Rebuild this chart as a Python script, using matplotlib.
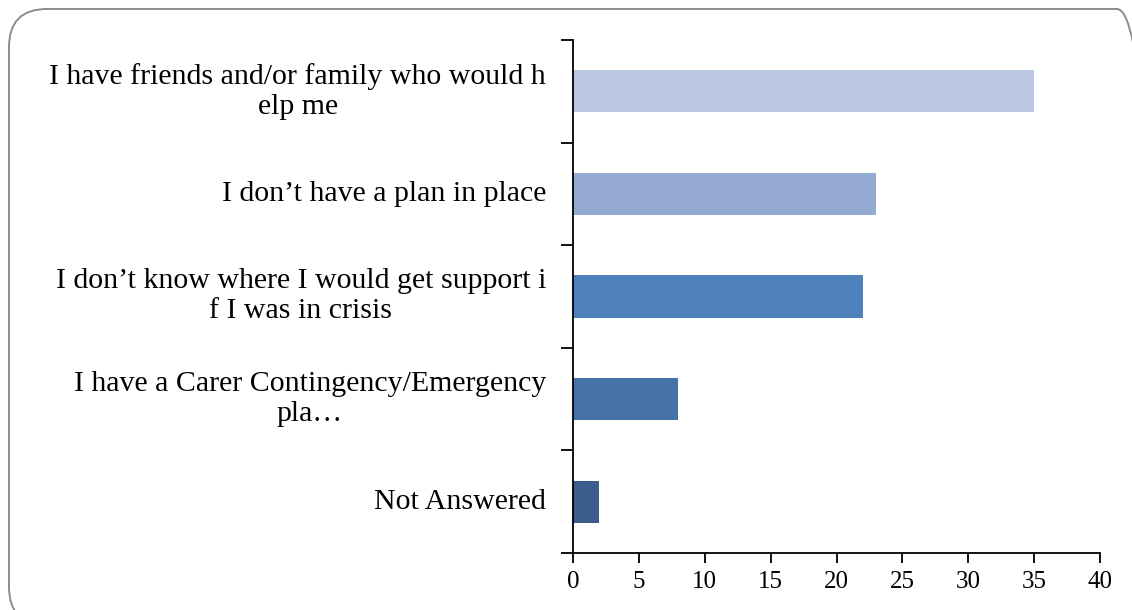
import matplotlib.pyplot as plt
from matplotlib.patches import FancyBboxPatch

# survey answers, top to bottom
labels = ["I have friends and/or family who would h\nelp me",
          "I don\u2019t have a plan in place",
          "I don\u2019t know where I would get support i\nf I was in crisis",
          "I have a Carer Contingency/Emergency\npla\u2026",
          "Not Answered"]
counts = [35, 23, 22, 8, 2]
colors = ["#B9C7E0", "#95AAD0", "#4F82BD", "#4572A7", "#3A5D8C"]
xticks = [0, 5, 10, 15, 20, 25, 30, 35, 40]

plt.rcParams['font.family'] = ['Liberation Serif', 'DejaVu Serif']

fig = plt.figure(figsize=(11.32, 6.10), dpi=100)

# rounded frame around the chart (inches, runs off the right and bottom edges)
frame = FancyBboxPatch((0.09, -0.15), 11.46, 6.16,
                       boxstyle="round,pad=0,rounding_size=0.38",
                       transform=fig.dpi_scale_trans, facecolor="none",
                       edgecolor="#8c8c8c", linewidth=1.4, zorder=-1)
fig.patches.append(frame)

ax = fig.add_axes([573 / 1132, 57 / 610, 527 / 1132, 513 / 610])
ax.patch.set_alpha(0)

n = len(counts)
ypos = list(range(n - 1, -1, -1))
ax.barh(ypos, counts, height=0.41, color=colors)

ax.set_xlim(0, 40)
ax.set_ylim(-0.5, n - 0.5)
ax.set_xticks(xticks)
ax.set_xticklabels([str(t) for t in xticks], fontsize=18)

# category ticks sit on the boundaries, labels in the middle
ax.set_yticks([i - 0.5 for i in range(n + 1)])
ax.set_yticklabels([])
ax.set_yticks(ypos, minor=True)
ax.set_yticklabels(labels, minor=True, fontsize=21.5, multialignment='center',
                   linespacing=1.2, va='center')
ax.tick_params(axis='y', which='minor', length=0, pad=19.5)
ax.tick_params(axis='y', which='major', length=9, width=1.3, direction='out')
ax.tick_params(axis='x', length=7, width=1.3, direction='out', pad=6)

for side in ['top', 'right']:
    ax.spines[side].set_visible(False)
for side in ['left', 'bottom']:
    ax.spines[side].set_linewidth(1.3)

fig.savefig("out.png", dpi=100)
